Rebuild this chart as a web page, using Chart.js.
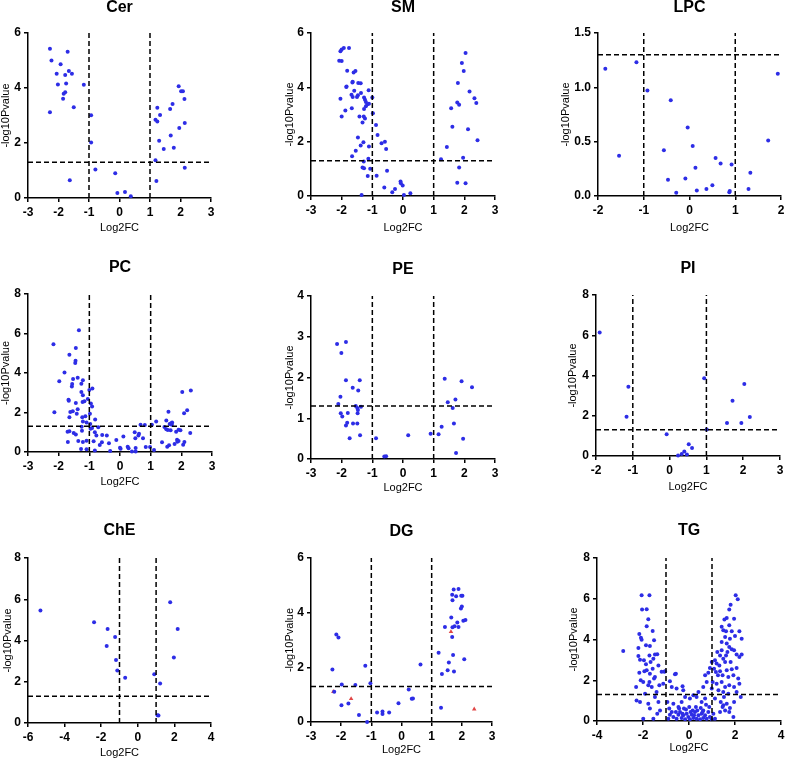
<!DOCTYPE html>
<html>
<head>
<meta charset="utf-8">
<script src="https://cdn.jsdelivr.net/npm/chart.js@4.4.1/dist/chart.umd.min.js"></script>
<style>
  html, body { margin: 0; padding: 0; background: #fff; overflow: hidden; }
  body { width: 786px; height: 760px; position: relative; }
  canvas { position: absolute; }
</style>
</head>
<body>
<script>
// пороги: |Log2FC| = 1 и p = 0.05 (-log10 = 1.3)
const FC_CUT = 1;
const P_CUT = 1.3;

// точки [Log2FC, -log10Pvalue]
const cerPoints = [
    [-2.28,5.43],[-2.23,5.0],[-1.70,5.32],[-1.93,4.86],[-2.06,4.52],[-1.66,4.62],[-1.56,4.52],[-1.78,4.47],
    [-2.02,4.13],[-1.75,4.16],[-1.17,4.12],[-1.78,3.85],[-1.83,3.79],[-1.85,3.61],[-1.50,3.30],[-2.28,3.12],
    [-0.93,3.01],[-0.93,2.02],[-0.79,1.04],[-1.63,0.65],[-0.14,0.90],[-0.07,0.18],[0.18,0.22],[0.37,0.06],
    [1.94,4.06],[2.02,3.88],[2.08,3.88],[2.13,3.60],[1.74,3.42],[1.24,3.28],[1.66,3.24],[1.33,3.02],
    [1.18,2.85],[1.24,2.78],[2.14,2.73],[1.96,2.55],[1.68,2.27],[1.30,2.08],[1.45,1.78],[1.78,1.83],
    [1.18,1.37],[2.14,1.10],[1.21,0.62]
];

const smPoints = [
    [-2.04,5.33],[-2.0,5.39],[-1.93,5.45],[-1.76,5.45],[-2.08,4.98],[-2.0,4.97],[-1.82,4.61],[-1.61,4.55],
    [-1.55,4.6],[-1.64,4.21],[-1.65,4.18],[-1.46,4.16],[-1.38,4.15],[-1.85,4.01],[-1.84,4.03],[-1.12,3.89],
    [-1.59,3.87],[-1.37,3.79],[-1.68,3.73],[-1.64,3.64],[-1.47,3.71],[-1.50,3.64],[-2.04,3.58],[-1.27,3.63],
    [-1.24,3.54],[-1.0,3.63],[-1.21,3.46],[-1.16,3.38],[-1.11,3.4],[-1.67,3.23],[-1.88,3.15],[-1.21,3.30],
    [-1.27,3.20],[-0.98,3.05],[-1.42,2.93],[-1.28,2.93],[-1.24,2.85],[-2.0,2.93],[-1.32,2.71],[-0.88,2.61],
    [-0.83,2.25],[-1.47,2.15],[-0.70,1.94],[-0.59,2.0],[-1.29,1.98],[-1.38,1.86],[-1.11,1.82],[-0.55,1.73],
    [-1.54,1.67],[-1.66,1.46],[-1.13,1.37],[-1.28,1.27],[-1.32,1.05],[-1.27,1.02],[-1.07,1.0],[-1.15,0.74],
    [-0.86,0.75],[-0.52,0.93],[-0.61,0.31],[-0.08,0.53],[-0.07,0.47],[-0.01,0.39],[-0.26,0.26],[-0.35,0.14],
    [0.03,0.04],[0.24,0.10],[-1.35,0.04],
    [2.04,5.26],[1.92,4.9],[1.98,4.6],[1.79,4.16],[2.17,3.85],[2.33,3.6],[1.77,3.44],[1.83,3.36],
    [2.39,3.42],[1.57,3.23],[1.61,2.55],[2.12,2.46],[2.43,2.05],[1.43,1.80],[1.24,1.35],[1.96,1.41],
    [1.83,1.05],[1.77,0.49],[2.04,0.47]
];

const lpcPoints = [
    [-1.84,1.17],[-1.16,1.23],[-0.92,0.97],[-0.41,0.88],[-1.54,0.37],[-0.56,0.42],[-0.47,0.15],[-0.29,0.03],
    [-0.04,0.63],[0.07,0.46],[0.13,0.26],[-0.09,0.16],[0.16,0.05],[0.37,0.065],[0.50,0.10],[0.57,0.35],
    [0.68,0.30],[0.92,0.29],[0.87,0.034],[0.88,0.046],[1.33,0.215],[1.29,0.065],[1.72,0.51],[1.93,1.125]
];

const pcPoints = [
    [-1.34,6.16],[-2.17,5.45],[-1.44,5.27],[-1.65,4.93],[-1.45,4.62],[-1.46,4.51],[-1.81,4.03],[-1.98,3.58],
    [-1.53,3.70],[-1.38,3.76],[-1.21,3.63],[-1.56,3.44],[-1.57,3.32],[-1.26,3.46],[-1.26,3.04],[-0.90,3.21],
    [-1.0,3.14],[-1.21,2.87],[-1.68,2.65],[-1.67,2.60],[-1.05,2.68],[-1.22,2.53],[-1.16,2.57],[-1.44,2.48],
    [-0.95,2.45],[-0.91,2.31],[-1.62,2.03],[-1.54,2.06],[-1.38,2.16],[-1.41,1.94],[-2.14,2.01],[-0.98,1.94],
    [-1.65,1.76],[-1.23,1.76],[-1.13,1.81],[-0.81,1.64],[-1.09,1.50],[-1.21,1.55],[-0.97,1.42],[-0.91,1.22],
    [-1.25,1.28],[-1.71,1.03],[-1.65,1.05],[-1.44,0.89],[-1.24,1.08],[-0.96,1.18],[-0.71,1.25],[-0.82,1.00],
    [-1.51,0.96],[-1.70,0.51],[-1.36,0.56],[-1.21,0.51],[-1.09,0.57],[-1.27,0.15],[-1.09,0.14],[-0.86,0.54],
    [-0.77,0.84],[-0.58,0.86],[-0.43,0.84],[-0.66,0.35],[-0.59,0.49],[-0.36,0.44],[-0.82,0.08],[-0.32,0.05],
    [-0.12,0.61],[0.11,0.78],[0.0,0.22],[0.02,0.17],[0.25,0.27],[0.28,0.19],[0.51,0.20],[0.48,1.0],
    [0.50,0.69],[0.60,0.84],[0.62,0.93],[0.75,0.69],[0.67,1.38],[0.51,0.03],[0.39,0.03],[0.84,0.25],
    [0.98,0.25],[0.81,1.37],[1.04,1.38],[1.18,1.54],[1.11,0.10],[1.37,0.49],[1.51,1.59],[1.45,1.27],
    [1.51,1.15],[1.56,1.11],[1.54,0.27],[1.60,0.34],[1.58,2.04],[1.62,1.42],[1.67,1.45],[1.70,1.50],
    [1.69,1.38],[1.65,1.10],[1.83,1.03],[1.86,0.62],[1.87,0.52],[1.91,1.13],[1.97,1.10],[2.03,3.04],
    [2.31,3.11],[2.09,1.96],[2.19,2.11],[2.29,0.96],[1.78,0.41],[2.10,0.51],[2.06,0.37],[1.91,0.56]
];

const pePoints = [
    [-2.15,2.82],[-1.86,2.87],[-2.01,2.60],[-1.86,1.93],[-1.41,1.93],[-1.64,1.75],[-1.46,1.68],[-2.04,1.53],
    [-2.11,1.35],[-1.54,1.30],[-1.49,1.25],[-1.37,1.28],[-1.47,1.20],[-1.48,1.12],[-2.03,1.12],[-1.98,1.04],
    [-1.80,1.13],[-1.82,0.89],[-1.86,0.82],[-1.63,0.87],[-1.49,0.87],[-1.40,0.58],[-1.74,0.51],[-0.88,0.51],
    [-0.61,0.06],[-0.55,0.07],[0.17,0.58],[0.90,0.62],[1.16,0.61],[1.26,0.79],[1.36,1.97],[1.46,1.39],
    [1.62,1.25],[1.71,1.46],[1.66,0.87],[1.91,1.91],[2.25,1.76],[1.96,0.50],[1.73,0.15]
];

const piPoints = [
    [-1.90,6.14],[-1.12,3.44],[-1.17,1.95],[-0.08,1.08],[0.94,3.86],[1.01,1.32],[2.03,3.58],[1.71,2.75],
    [1.56,1.64],[1.95,1.64],[2.18,1.94],[0.52,0.58],[0.61,0.40],[0.40,0.22],[0.33,0.10],[0.47,0.08],[0.23,0.02]
];

const chePoints = [
    [-5.32,5.46],[-2.39,4.89],[-1.65,4.56],[-1.24,4.17],[-1.70,3.73],[-1.19,3.05],[-1.12,2.55],[-0.69,2.20],
    [0.90,2.36],[1.22,1.91],[1.77,5.85],[2.18,4.56],[1.97,3.17],[1.08,0.37],[1.13,0.36]
];

const dgPoints = [
    [-2.16,3.20],[-2.09,3.09],[-2.29,1.92],[-1.20,2.06],[-1.98,1.37],[-1.53,1.35],[-2.23,1.11],[-1.99,0.61],
    [-1.76,0.68],[-1.41,0.26],[-1.14,0.0],[-1.03,1.42],[-0.81,0.35],[-0.63,0.38],[-0.63,0.29],[-0.41,0.35],
    [-0.10,0.69],[0.24,1.19],[0.34,0.85],[0.38,0.86],[0.63,2.10],[1.23,2.53],[1.31,0.52],[1.34,1.76],
    [1.44,3.48],[1.53,1.89],[1.57,2.18],[1.65,3.82],[1.69,3.47],[1.68,3.11],[1.71,2.45],[1.76,3.50],
    [1.74,1.85],[1.73,4.85],[1.68,4.66],[1.69,4.45],[1.81,4.60],[1.89,4.87],[1.98,4.62],[2.02,4.62],
    [1.97,4.15],[2.0,4.23],[1.89,3.48],[1.85,3.64],[2.05,3.70],[2.12,3.73],[2.08,2.30]
];
const dgRedPoints = [[-2.26,1.11],[-1.67,0.85],[1.64,3.30],[2.41,0.47]];

const tgPoints = [
    // левая ветвь
    [-2.06,6.17],[-1.72,6.17],[-2.04,5.47],[-1.84,5.48],[-1.77,4.99],[-1.84,4.65],[-2.16,4.27],[-2.09,4.09],
    [-2.06,3.99],[-1.58,4.42],[-1.52,3.96],[-1.87,3.72],[-2.2,3.58],[-1.70,3.68],[-2.86,3.44],[-1.48,3.26],
    [-1.38,3.27],[-2.2,3.19],[-2.13,3.01],[-1.96,2.98],[-1.87,2.78],[-1.67,2.9],[-1.33,2.73],[-1.84,2.49],
    [-1.70,2.32],[-1.48,2.16],[-1.19,2.42],[-1.07,2.42],[-2.10,2.0],[-1.99,1.91],[-1.77,1.75],[-2.30,1.67],
    [-1.62,1.67],[-1.41,1.42],[-1.91,1.34],[-2.28,1.01],[-2.13,0.93],[-1.77,0.85],[-1.33,0.93],[-1.48,1.18],
    [-1.26,0.52],[-1.38,0.36],[-1.99,0.11],[-1.55,0.11],[-1.70,0.61],[-1.94,2.44],[-1.58,2.57],[-1.52,2.08],
    [-1.72,1.91],[-1.29,1.75],[-1.12,1.83],[-2.16,2.37],[-1.72,3.22],[-1.55,3.06],
    // середина
    [-0.61,2.29],[-0.57,2.32],[-1.04,2.44],[-0.83,1.95],[-0.75,1.67],[-0.54,1.59],[-0.28,1.70],[-0.25,1.51],
    [-0.94,0.93],[-0.86,0.61],[-0.68,0.85],[-0.46,0.69],[-0.32,0.93],[-0.17,1.18],[0.04,1.10],[0.19,1.26],
    [0.33,1.18],[0.41,1.42],[0.62,1.67],[0.77,1.91],[0.70,2.24],[0.84,2.37],[0.91,2.60],[0.99,2.90],
    [0.55,0.93],[0.70,1.10],[0.62,0.52],
    [-0.83,0.31],[-0.68,0.20],[-0.54,0.11],[-0.46,0.31],[-0.39,0.44],[-0.32,0.15],[-0.25,0.28],[-0.17,0.08],
    [-0.10,0.36],[-0.03,0.20],[0.04,0.08],[0.12,0.31],[0.19,0.15],[0.26,0.44],[0.33,0.11],[0.41,0.28],
    [0.48,0.08],[0.55,0.36],[0.62,0.15],[0.70,0.28],[0.77,0.11],[0.84,0.44],[0.91,0.20],[0.99,0.08],
    [-0.57,0.44],[-0.43,0.61],[-0.13,0.57],[0.01,0.69],[0.16,0.52],[0.30,0.69],[0.51,0.64],[0.74,0.80],
    [0.88,0.69],[-0.90,0.11],[-0.75,0.44],[-0.28,0.36],[0.07,0.44],[0.22,0.28],[0.36,0.52],[0.59,0.44],
    [-0.22,0.61],
    // правая ветвь
    [2.03,6.17],[2.12,5.97],[1.81,5.71],[1.75,5.47],[1.64,5.06],[1.54,4.98],[1.96,5.02],[1.75,4.70],
    [1.42,4.62],[1.49,4.45],[1.61,4.40],[1.86,4.40],[2.19,4.40],[1.57,4.12],[1.78,4.04],[2.0,4.17],
    [2.29,4.04],[1.64,3.80],[1.75,3.63],[1.86,3.52],[1.96,3.47],[1.67,3.39],[2.07,3.26],[2.29,3.26],
    [1.23,3.39],[1.35,3.22],[1.42,3.47],[1.49,3.06],[1.13,2.98],[1.20,2.82],[1.32,2.73],[1.57,2.90],
    [1.09,2.57],[1.17,2.41],[1.35,2.44],[1.64,2.49],[1.86,2.54],[2.07,2.60],[1.46,2.24],[1.71,2.16],
    [1.93,2.24],[2.14,2.08],[1.03,1.91],[1.20,1.83],[1.42,1.91],[1.57,1.67],[1.75,1.75],[1.96,1.67],
    [2.19,1.83],[0.99,1.59],[1.28,1.51],[1.49,1.42],[1.71,1.34],[2.07,1.42],[2.25,1.18],[1.13,1.10],
    [1.38,0.93],[1.49,0.77],[1.64,0.85],[1.78,0.64],[1.57,0.52],[1.35,0.44],[1.46,0.69],[1.93,0.20],
    [1.06,0.36],[1.13,0.11],[1.75,0.44],[1.96,0.93],[1.52,1.18],[1.26,2.24],[1.81,2.90],[1.61,3.22],
    [2.19,3.14],[1.42,3.88]
];

// подписи и оси панелей: [min, max, шаг]
const panelNames = ['Cer', 'SM', 'LPC', 'PC', 'PE', 'PI', 'ChE', 'DG', 'TG'];
const panelPoints = [cerPoints, smPoints, lpcPoints, pcPoints, pePoints, piPoints, chePoints, dgPoints, tgPoints];
const xRanges = [[-3,3,1], [-3,3,1], [-2,2,1], [-3,3,1], [-3,3,1], [-2,3,1], [-6,4,2], [-3,3,1], [-4,4,2]];
const yRanges = [[0,6,2], [0,6,2], [0,1.5,0.5], [0,8,2], [0,4,1], [0,8,2], [0,8,2], [0,6,2], [0,8,2]];

// раскладка: область графика [left, top, right, bottom], центр заголовка, отступы подписей осей
const layoutBoxes = [
    { box: [28, 33, 211, 198],  titleY: 8,   yOff: 22, xOff: 30 },
    { box: [311, 33, 495, 196], titleY: 8,   yOff: 21, xOff: 32 },
    { box: [598, 33, 781, 196], titleY: 8,   yOff: 32, xOff: 32 },
    { box: [28, 294, 212, 452], titleY: 268, yOff: 22, xOff: 30 },
    { box: [311, 296, 495, 459], titleY: 270, yOff: 21, xOff: 29 },
    { box: [596, 295, 780, 456], titleY: 269, yOff: 23, xOff: 31 },
    { box: [28, 558, 211, 723], titleY: 531, yOff: 20, xOff: 30 },
    { box: [311, 558, 492, 722], titleY: 532, yOff: 21, xOff: 28 },
    { box: [597, 558, 781, 721], titleY: 531, yOff: 23, xOff: 27 }
];

const FONT = '"Liberation Sans", Arial, sans-serif';
const BLUE = 'rgb(45, 45, 230)';
const RED = 'rgb(225, 70, 70)';

Chart.defaults.color = '#000';
Chart.defaults.font.family = FONT;

function dashed(points) {
    return {
        data: points.map(([x, y]) => ({ x, y })),
        showLine: true,
        borderColor: '#000',
        borderWidth: 1.5,
        borderDash: [5, 3],
        pointRadius: 0,
        fill: false,
        clip: false
    };
}

function dots(points, color, style, radius) {
    return {
        data: points.map(([x, y]) => ({ x, y })),
        backgroundColor: color,
        borderColor: color,
        borderWidth: 0,
        pointStyle: style,
        pointRadius: radius,
        clip: 4
    };
}

function makePanel(i) {
    const L = layoutBoxes[i];
    const [bl, bt, br, bb] = L.box;
    const xr = xRanges[i], yr = yRanges[i];
    const yW = L.yOff + 7;
    const xH = L.xOff + 7;
    const left = bl - yW;
    const top = L.titleY - 9;
    const w = br - left + 14;
    const h = bb + xH + 2 - top;

    const cv = document.createElement('canvas');
    cv.width = w; cv.height = h;
    cv.style.left = left + 'px';
    cv.style.top = top + 'px';
    cv.style.width = w + 'px';
    cv.style.height = h + 'px';
    document.body.appendChild(cv);

    const datasets = [
        dashed([[-FC_CUT, yr[0]], [-FC_CUT, yr[1]]]),
        dashed([[FC_CUT, yr[0]], [FC_CUT, yr[1]]]),
        dashed([[xr[0], P_CUT], [xr[1], P_CUT]]),
        dots(panelPoints[i], BLUE, 'circle', 2)
    ];
    if (panelNames[i] === 'DG') datasets.push(dots(dgRedPoints, RED, 'triangle', 2.6));

    const tickFont = { family: FONT, size: 12, weight: 'bold' };
    const axisTitleFont = { family: FONT, size: 11, lineHeight: '14px' };
    const grid = { drawOnChartArea: false, color: '#000', lineWidth: 1.5, tickLength: 4 };
    const border = { color: '#000', width: 1.5 };

    new Chart(cv, {
        type: 'scatter',
        data: { datasets },
        options: {
            responsive: false,
            animation: false,
            layout: { padding: { left: 0, right: 14, top: 0, bottom: 2 } },
            plugins: {
                legend: { display: false },
                tooltip: { enabled: false },
                title: {
                    display: true,
                    text: panelNames[i],
                    fullSize: false,
                    color: '#000',
                    font: { family: FONT, size: 16, weight: 'bold', lineHeight: '18px' },
                    padding: { top: 0, bottom: bt - top - 18 }
                }
            },
            scales: {
                x: {
                    type: 'linear',
                    min: xr[0], max: xr[1],
                    ticks: { stepSize: xr[2], font: tickFont, color: '#000', padding: 3, maxRotation: 0, autoSkip: false },
                    grid, border,
                    title: { display: true, text: 'Log2FC', font: axisTitleFont, color: '#000', padding: 0 },
                    afterFit(s) { s.height = xH; }
                },
                y: {
                    type: 'linear',
                    min: yr[0], max: yr[1],
                    ticks: {
                        stepSize: yr[2], font: tickFont, color: '#000', padding: 3,
                        callback: v => yr[2] < 1 ? v.toFixed(1) : String(v)
                    },
                    grid, border,
                    title: { display: true, text: '-log10Pvalue', font: axisTitleFont, color: '#000', padding: 0 },
                    afterFit(s) { s.width = yW; }
                }
            }
        }
    });
}

for (let i = 0; i < panelNames.length; i++) makePanel(i);
</script>
</body>
</html>
